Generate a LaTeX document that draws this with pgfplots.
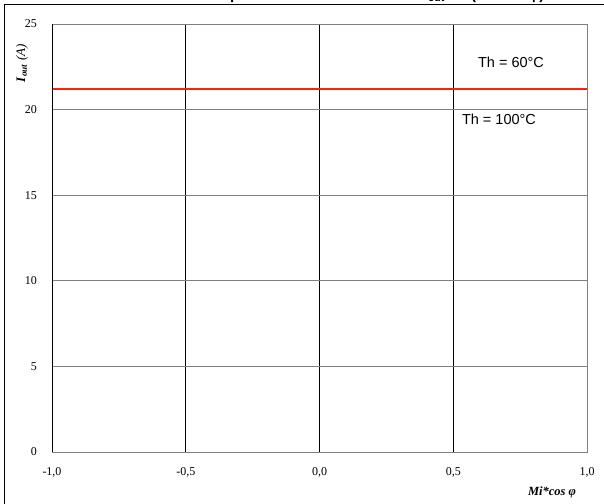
\documentclass[border=0pt]{standalone}
\usepackage{pgfplots}
\pgfplotsset{compat=1.18}
\usepackage{fontspec}
\setmainfont{Liberation Serif}
\newfontfamily\arial{Liberation Sans}
\definecolor{redline}{RGB}{255,34,0}
\definecolor{gridgray}{RGB}{128,128,128}
\begin{document}
\begin{tikzpicture}[x=1pt,y=1pt]
\path[use as bounding box] (0,0) rectangle (604,503);
\draw[black, line width=1.3pt] (4.5,-5) -- (4.5,498.5) -- (610,498.5);
\node[anchor=base west, font=\arial\bfseries\fontsize{15}{18}\selectfont, inner sep=0pt] at (204,503.5) {Output current at different Th: I\textsubscript{out} = f (Mi*cos φ)};
\begin{axis}[at={(52pt,51pt)}, anchor=south west, scale only axis,
  width=535pt, height=428pt,
  xmin=-1, xmax=1, ymin=0, ymax=25,
  xtick={-1,-0.5,0,0.5,1}, ytick={0,5,10,15,20,25},
  xticklabels={{-1,0},{-0,5},{0,0},{0,5},{1,0}},
  yticklabels={0,5,10,15,20,25},
  major tick length=0pt,
  tick label style={font=\fontsize{12}{14}\selectfont, inner sep=0pt},
  xticklabel style={anchor=north, yshift=-15pt},
  yticklabel style={anchor=east, xshift=-15pt},
  grid=major,
  major x grid style={black, line width=0.8pt},
  major y grid style={gridgray, line width=0.8pt},
  axis line style={gridgray, line width=0.8pt},
  clip=false,
]
\addplot[redline, line width=2pt] coordinates {(-1,21.2) (1,21.2)};
\draw[black, line width=0.8pt] (axis cs:-1,0) -- (axis cs:-1,25);
\node[font=\arial\fontsize{14.5}{17}\selectfont] at (axis cs:0.716,22.78) {Th = 60°C};
\node[font=\arial\fontsize{14.5}{17}\selectfont] at (axis cs:0.671,19.45) {Th = 100°C};
\end{axis}
\node[font=\fontsize{12.5}{15}\selectfont\bfseries\itshape] at (552,11) {Mi*cos φ};
\node[rotate=90, font=\fontsize{13}{15}\selectfont] at (22,440) {\textbf{\textit{I}}\textsubscript{\textbf{\textit{out}}} \textit{(A)}};
\end{tikzpicture}
\end{document}
